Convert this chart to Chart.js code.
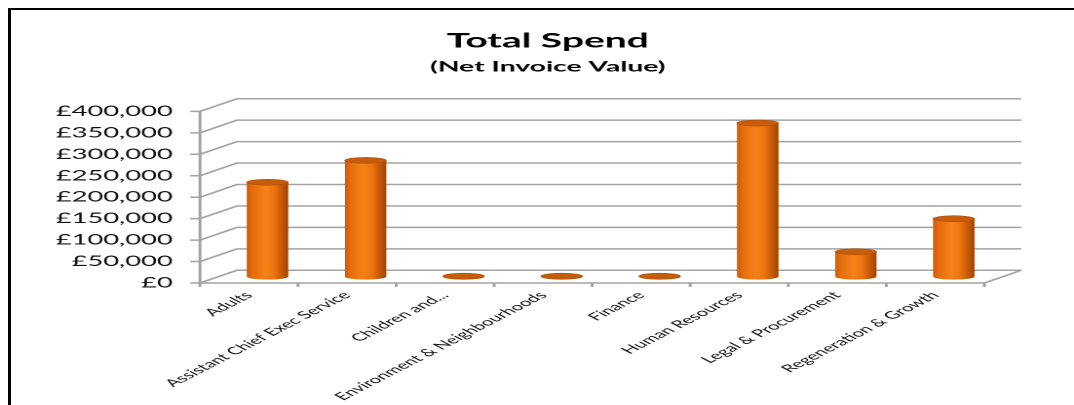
<!DOCTYPE html>
<html>
<head>
<meta charset="utf-8">
<script src="https://cdn.jsdelivr.net/npm/chart.js@4.4.1/dist/chart.umd.min.js"></script>
<style>
  html, body { margin: 0; padding: 0; background: #fff; }
  body { width: 1074px; height: 405px; overflow: hidden; position: relative; }
  #spendChart { position: absolute; left: 0; top: 0; transform-origin: 0 0; }
  #frame { position: absolute; left: 8px; top: 8px; right: 0; bottom: -5px;
           border-left: 3px solid #000; border-top: 2px solid #000; pointer-events: none; }
</style>
</head>
<body>
<canvas id="spendChart"></canvas>
<div id="frame"></div>
<script>
const categories = [
  'Adults',
  'Assistant Chief Exec Service',
  'Children and...',
  'Environment & Neighbourhoods',
  'Finance',
  'Human Resources',
  'Legal & Procurement',
  'Regeneration & Growth',
];
const spend = [220000, 271000, 1000, 1000, 1000, 358000, 58000, 135000];
const yMax = 400000;
const yStep = 50000;

// the picture is an old Excel 3D chart stretched sideways, so draw narrow and stretch
const pageWidth = 1074;
const drawWidth = 551;
const stretch = pageWidth / drawWidth;
const depthX = 19;
const depthY = -12.7;

const canvas = document.getElementById('spendChart');
canvas.style.width = drawWidth + 'px';
canvas.style.height = '405px';
canvas.style.transform = `scaleX(${stretch})`;

const frame3d = {
  id: 'frame3d',
  beforeDatasetsDraw(chart) {
    const { ctx, chartArea: a, scales: { y } } = chart;
    ctx.save();
    ctx.strokeStyle = '#a3a3a3';
    ctx.lineWidth = 1.5;
    y.ticks.forEach((t) => {
      const py = y.getPixelForValue(t.value);
      ctx.beginPath();
      ctx.moveTo(a.left - 5, py);
      ctx.lineTo(a.left, py);
      ctx.lineTo(a.left + depthX, py + depthY);
      ctx.lineTo(a.right + depthX, py + depthY);
      ctx.stroke();
    });
    ctx.beginPath();
    ctx.moveTo(a.left, a.top);
    ctx.lineTo(a.left, a.bottom);
    ctx.lineTo(a.right, a.bottom);
    ctx.lineTo(a.right + depthX, a.bottom + depthY);
    ctx.stroke();
    const step = (a.right - a.left) / categories.length;
    for (let i = 0; i <= categories.length; i++) {
      const px = a.left + i * step;
      ctx.beginPath();
      ctx.moveTo(px, a.bottom);
      ctx.lineTo(px, a.bottom + 4);
      ctx.stroke();
    }
    ctx.restore();

    // bars sit half way back in the box
    ctx.save();
    ctx.translate(depthX / 2, depthY / 2);
  },
  afterDatasetsDraw(chart) {
    const { ctx } = chart;
    const meta = chart.getDatasetMeta(0);
    meta.data.forEach((bar) => {
      const { x, y, base, width } = bar.getProps(['x', 'y', 'base', 'width'], true);
      const rx = width / 2;
      const ry = 3;
      const g = ctx.createLinearGradient(x - rx, 0, x + rx, 0);
      g.addColorStop(0, '#cc5c08');
      g.addColorStop(0.12, '#e46c0c');
      g.addColorStop(0.45, '#f7821a');
      g.addColorStop(0.65, '#ee7510');
      g.addColorStop(0.85, '#c45807');
      g.addColorStop(1, '#a04403');
      ctx.beginPath();
      ctx.moveTo(x - rx, y);
      ctx.lineTo(x - rx, base);
      ctx.ellipse(x, base, rx, ry, 0, Math.PI, 0, true);
      ctx.lineTo(x + rx, y);
      ctx.closePath();
      ctx.fillStyle = g;
      ctx.fill();
      ctx.beginPath();
      ctx.ellipse(x, y, rx, ry, 0, 0, Math.PI * 2);
      ctx.fillStyle = '#c65d0c';
      ctx.fill();
      ctx.strokeStyle = '#b04f06';
      ctx.lineWidth = 0.6;
      ctx.stroke();
    });
    ctx.restore();
  },
};

function drawChart() {
  new Chart(canvas, {
    type: 'bar',
    data: {
      labels: categories,
      datasets: [{
        data: spend,
        backgroundColor: '#e8700c',
        borderWidth: 0,
        barPercentage: 0.42,
        categoryPercentage: 1.0,
      }],
    },
    options: {
      responsive: false,
      animation: false,
      devicePixelRatio: 2,
      layout: { padding: { left: 11, right: 0, top: 0, bottom: 0 } },
      plugins: {
        legend: { display: false },
        tooltip: { enabled: false },
        title: {
          display: true,
          text: 'Total Spend',
          color: '#000',
          font: { family: 'Lato', weight: 'bold', size: 20 },
          padding: { top: 29, bottom: 0 },
        },
        subtitle: {
          display: true,
          text: '(Net Invoice Value)',
          color: '#000',
          font: { family: 'Lato', weight: 'bold', size: 14.5 },
          padding: { top: 5, bottom: 36 },
        },
      },
      scales: {
        x: {
          grid: { display: false, tickLength: 4 },
          border: { display: false },
          ticks: {
            autoSkip: false,
            minRotation: 45,
            maxRotation: 45,
            padding: 2,
            color: '#111',
            font: { family: 'Lato', size: 10.5 },
          },
          afterFit: (s) => { s.height = 122; },
        },
        y: {
          min: 0,
          max: yMax,
          grid: { display: false, tickLength: 5 },
          border: { display: false },
          ticks: {
            stepSize: yStep,
            padding: 9,
            color: '#111',
            font: { family: 'Lato', size: 14 },
            callback: (v) => '£' + v.toLocaleString('en-GB'),
          },
          afterFit: (s) => { s.width = 91.6; },
        },
        // empty right-hand space where the back wall runs out
        rightSpace: {
          position: 'right',
          min: 0,
          max: yMax,
          grid: { display: false },
          border: { display: false },
          ticks: { display: false },
          afterFit: (s) => { s.width = 46; },
        },
      },
    },
    plugins: [frame3d],
  });
}

Promise.all([
  document.fonts.load('bold 19px Lato'),
  document.fonts.load('14px Lato'),
]).then(drawChart, drawChart);
</script>
</body>
</html>
